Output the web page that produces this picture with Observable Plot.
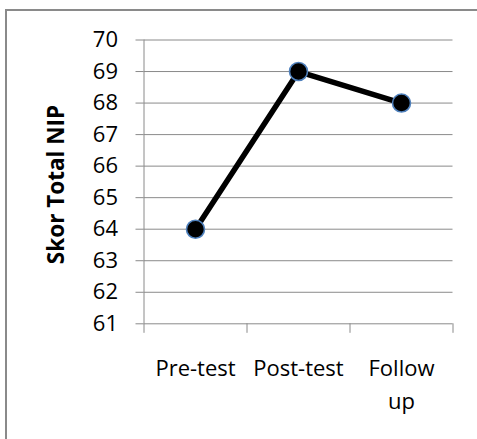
<!DOCTYPE html>
<html>
<head>
<meta charset="utf-8">
<script src="https://cdn.jsdelivr.net/npm/d3@7"></script>
<script src="https://cdn.jsdelivr.net/npm/@observablehq/plot@0.6"></script>
<style>
  html, body { margin: 0; padding: 0; background: #fff; overflow: hidden; }
  #chart { position: relative; width: 477px; height: 439px; overflow: hidden; }
  #chart svg { position: absolute; left: 0; top: 0; }
  /* outer chart border (continues past the right and bottom edges) */
  #chart .frame {
    position: absolute; left: 5px; top: 8.5px; width: 540px; height: 540px;
    border: 2px solid #8a8a8a; box-sizing: border-box; pointer-events: none;
  }
</style>
</head>
<body>
<div id="chart"></div>
<script>
// Measurement phases and their total NIP score
const phases = ["Pre-test", "Post-test", "Follow up"];
const scores = [64, 69, 68];
const yTicks = [61, 62, 63, 64, 65, 66, 67, 68, 69, 70];
const yTitle = "Skor Total NIP";

const data = phases.map((phase, i) => ({phase, pos: i + 0.5, score: scores[i]}));
const boundaries = d3.range(phases.length + 1);

const gray = "#8a8a8a";
const font = "Open Sans";

const chart = Plot.plot({
  width: 477,
  height: 439,
  marginLeft: 143.5,
  marginRight: 24.5,
  marginTop: 39.5,
  marginBottom: 115.7,
  style: {background: "transparent", fontFamily: font},
  x: {domain: [0, phases.length]},
  y: {domain: [61, 70]},
  marks: [
    Plot.gridY(yTicks, {stroke: gray, strokeOpacity: 1, strokeWidth: 1}),
    Plot.ruleX([0], {stroke: gray, strokeWidth: 1}),
    Plot.axisY({
      ticks: yTicks, tickSize: 8, tickPadding: 18, stroke: gray, fill: "black",
      fontSize: 22, fontFamily: font, label: null
    }),
    Plot.axisX({
      ticks: boundaries, tickSize: 9.5, tickFormat: () => "", stroke: gray, label: null
    }),
    // category labels, centred in each band; spaces break onto a new line
    Plot.text(phases, {
      x: (d, i) => i + 0.5,
      frameAnchor: "bottom",
      lineAnchor: "top",
      dy: 29.3,
      text: d => d.replace(/ /g, "\n"),
      lineHeight: 1.48,
      fontSize: 22,
      fontFamily: font,
      fill: "black"
    }),
    Plot.text([yTitle], {
      frameAnchor: "left",
      textAnchor: "middle",
      rotate: -90,
      dx: -87,
      dy: 2.6,
      fontSize: 22.5,
      fontWeight: "bold",
      fontFamily: font,
      fill: "black"
    }),
    Plot.line(data, {x: "pos", y: "score", stroke: "black", strokeWidth: 5.5}),
    Plot.dot(data, {x: "pos", y: "score", r: 9, fill: "black", stroke: "#4f81bd", strokeWidth: 1.6})
  ]
});

const host = document.getElementById("chart");
host.appendChild(chart);
const frame = document.createElement("div");
frame.className = "frame";
host.appendChild(frame);
</script>
</body>
</html>
